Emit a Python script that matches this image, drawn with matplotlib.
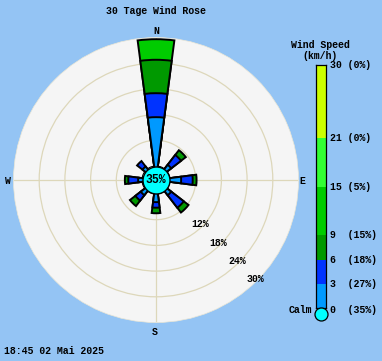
import numpy as np
import matplotlib
matplotlib.use('Agg')
import matplotlib.pyplot as plt
from matplotlib.transforms import blended_transform_factory

# ---------------- data ----------------
title = "30 Tage Wind Rose"
timestamp = "18:45 02 Mai 2025"
directions = ['N', 'NE', 'E', 'SE', 'S', 'SW', 'W', 'NW']
dir_angles = [0, 45, 90, 135, 180, 225, 270, 315]
speed_edges = [0, 3, 6, 9, 15, 21, 30]
speed_colors = ['#0099ff', '#0033ff', '#009900', '#00cc00', '#33ff33', '#ccff00']
legend_pcts = [35, 27, 18, 15, 5, 0, 0]   # calm, then bands up to each edge
calm_pct = 35
ring_values = [6, 12, 18, 24]
ring_labels = [12, 18, 24, 30]

# per-direction percentages for each speed band
band_0_3 = [11.4, 1.2, 2.6, 1.2, 1.9, 1.2, 0.9, 0.7]
band_3_6 = [5.6, 2.9, 2.7, 3.7, 1.3, 1.6, 2.3, 1.6]
band_6_9 = [7.8, 1.4, 0.9, 1.4, 1.3, 1.6, 0.8, 0.0]
band_9_15 = [4.8, 0.0, 0.0, 0.0, 0.0, 0.0, 0.0, 0.0]
band_15_21 = [0.0] * 8
band_21_30 = [0.0] * 8

# ---------------- style ----------------
BG = '#94c4f4'
FACE = '#f5f5f5'
GRID = '#ddd7ba'
MONO = ['Liberation Mono', 'DejaVu Sans Mono']
FS = 7.1

W, H = 382, 361
fig = plt.figure(figsize=(W / 100, H / 100), dpi=100, facecolor=BG)

def px(x, y):
    return x / W, 1 - y / H

# polar rose
cx, cy, R = 156, 180, 142.5
calm_r_px = 14
r0 = calm_r_px / (R - calm_r_px) * 30
ax = fig.add_axes([(cx - R) / W, (H - cy - R) / H, 2 * R / W, 2 * R / H],
                  projection='polar')
ax.set_theta_zero_location('N')
ax.set_theta_direction(-1)
ax.set_rorigin(-r0)
ax.set_ylim(0, 30)
ax.set_facecolor(FACE)
ax.set_rgrids(ring_values, labels=[''] * len(ring_values))
ax.set_thetagrids([0, 90, 180, 270], labels=[''] * 4)
ax.grid(True, color=GRID, lw=0.9)
ax.tick_params(length=0)
for name, sp in ax.spines.items():
    if name == 'polar':
        sp.set_color('#ebe7d6')
        sp.set_linewidth(0.5)
    else:
        sp.set_visible(False)

# fill the inner hole
ax.bar(0, r0, width=2 * np.pi, bottom=-r0, color=FACE, lw=0, zorder=0.5,
       clip_on=False)

bands = np.array([band_0_3, band_3_6, band_6_9, band_9_15, band_15_21, band_21_30])
cum = np.cumsum(bands, axis=0)
theta = np.deg2rad(dir_angles)
width = np.deg2rad(15)
base = -r0 / 2
for k in reversed(range(len(bands))):
    mask = bands[k] > 0
    if not mask.any():
        continue
    ax.bar(theta[mask], cum[k][mask] - base, width=width, bottom=base,
           color=speed_colors[k], edgecolor='black', lw=1.4, zorder=3,
           clip_on=False)

# calm circle
ax.scatter([0], [-r0], s=(27 * 0.72) ** 2, c='#00ffff', edgecolors='black',
           linewidths=1.0, zorder=6, clip_on=False)
ax.text(0, -r0, f"{calm_pct}%", ha='center', va='center', fontsize=8.3,
        fontweight='bold', family=MONO, zorder=7)

# ring labels
for v in ring_labels:
    ax.text(np.deg2rad(135), v - 0.6, f"{v}%", ha='center', va='center',
            fontsize=FS, fontweight='bold', family=MONO, zorder=4)

# compass labels
for lab, (x, y) in zip(['N', 'E', 'S', 'W'],
                       [(156, 31), (302, 181), (155, 332), (8, 181)]):
    fig.text(*px(x, y), lab, ha='center', va='center', fontsize=FS,
             fontweight='bold', family=MONO)

# title & timestamp
fig.text(*px(155.5, 11), title, ha='center', va='center', fontsize=FS,
         fontweight='bold', family=MONO)
fig.text(*px(4.5, 351), timestamp, ha='left', va='center', fontsize=FS,
         fontweight='bold', family=MONO)

# legend bar
y0_px, y30_px = 308.3, 65.3
lx0, lx1 = 315.5, 325.5
lax = fig.add_axes([lx0 / W, (H - y0_px) / H, (lx1 - lx0) / W,
                    (y0_px - y30_px) / H])
lax.bar(0.5, np.diff(speed_edges), bottom=speed_edges[:-1], width=1,
        color=speed_colors, lw=0)
lax.set_xlim(0, 1)
lax.set_ylim(0, 30)
lax.set_xticks([])
lax.set_yticks([])
for sp in lax.spines.values():
    sp.set_color('black')
    sp.set_linewidth(0.9)
lax.scatter([0.5], [-0.7], s=(13 * 0.72) ** 2, c='#00ffff',
            edgecolors='black', linewidths=0.9, zorder=5, clip_on=False)

trans = blended_transform_factory(fig.transFigure, lax.transData)
for v, p in zip(speed_edges, legend_pcts):
    yv = v if v > 0 else -0.15
    lax.text(330 / W, yv, f"{v:<2} ({p}%)", transform=trans, ha='left',
             va='center', fontsize=FS, fontweight='bold', family=MONO)
lax.text(312.5 / W, -0.15, "Calm", transform=trans, ha='right', va='center',
         fontsize=FS, fontweight='bold', family=MONO)
fig.text(*px(320, 45), "Wind Speed", ha='center', va='center', fontsize=FS,
         fontweight='bold', family=MONO)
fig.text(*px(320, 55.7), "(km/h)", ha='center', va='center', fontsize=FS,
         fontweight='bold', family=MONO)

fig.savefig('out.png', dpi=100, facecolor=BG)
